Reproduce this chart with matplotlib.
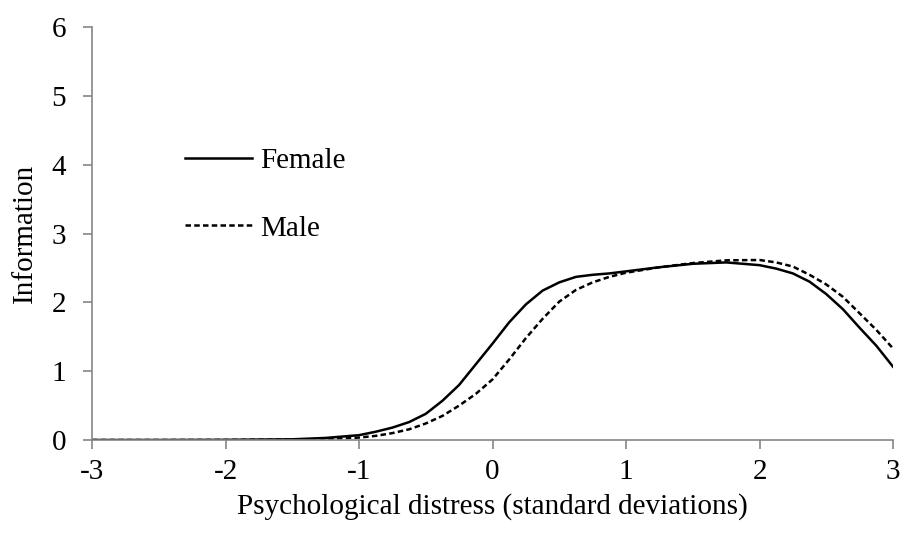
import matplotlib
matplotlib.use("Agg")
import matplotlib.pyplot as plt

x = [-3, -2.5, -2, -1.5, -1.25, -1, -0.875, -0.75, -0.625, -0.5, -0.375, -0.25, -0.125,
     0, 0.125, 0.25, 0.375, 0.5, 0.625, 0.75, 0.875, 1, 1.25, 1.5, 1.75,
     2, 2.125, 2.25, 2.375, 2.5, 2.625, 2.75, 2.875, 3]
female = [0, 0, 0.002, 0.01, 0.03, 0.07, 0.12, 0.18, 0.26, 0.38, 0.57, 0.8, 1.1,
          1.40, 1.71, 1.97, 2.17, 2.29, 2.37, 2.40, 2.42, 2.45, 2.51, 2.56, 2.58,
          2.54, 2.49, 2.42, 2.30, 2.12, 1.90, 1.63, 1.37, 1.065]
male = [0, 0, 0.001, 0.005, 0.015, 0.035, 0.06, 0.10, 0.155, 0.24, 0.35, 0.5, 0.67,
        0.88, 1.17, 1.48, 1.76, 2.01, 2.18, 2.29, 2.37, 2.43, 2.51, 2.57, 2.61,
        2.615, 2.58, 2.52, 2.40, 2.26, 2.08, 1.84, 1.60, 1.33]

plt.rcParams['font.family'] = ['Liberation Serif', 'DejaVu Serif']
plt.rcParams['axes.unicode_minus'] = False
fs = 21

fig = plt.figure(figsize=(9.05, 5.4), dpi=100)
ax = fig.add_axes([92/905, 1-440/540, (893-92)/905, (440-27)/540])

ax.plot(x, female, color='black', lw=1.8, label='Female')
ax.plot(x, male, color='black', lw=1.8, ls=(0, (2.2, 1.3)), label='Male')

ax.set_xlim(-3, 3)
ax.set_ylim(0, 6)
ax.set_xticks([-3, -2, -1, 0, 1, 2, 3])
ax.set_yticks([0, 1, 2, 3, 4, 5, 6])
for s in ['top', 'right']:
    ax.spines[s].set_visible(False)
for s in ['left', 'bottom']:
    ax.spines[s].set_color('#868686')
    ax.spines[s].set_linewidth(1.2)
ax.tick_params(axis='both', colors='#868686', labelcolor='black', labelsize=fs,
               length=6.5, width=1.2, direction='out')
ax.tick_params(axis='x', pad=7)
ax.tick_params(axis='y', pad=12)

ax.set_xlabel('Psychological distress (standard deviations)', fontsize=fs, labelpad=6)
ax.set_ylabel('Information', fontsize=fs, labelpad=10)

leg = ax.legend(loc='upper left', bbox_to_anchor=((185-92)/801, (440-148)/413),
                frameon=False, fontsize=fs, handlelength=2.3, handletextpad=0.28,
                labelspacing=1.4, borderpad=0, borderaxespad=0)

fig.savefig('out.png', dpi=100)
